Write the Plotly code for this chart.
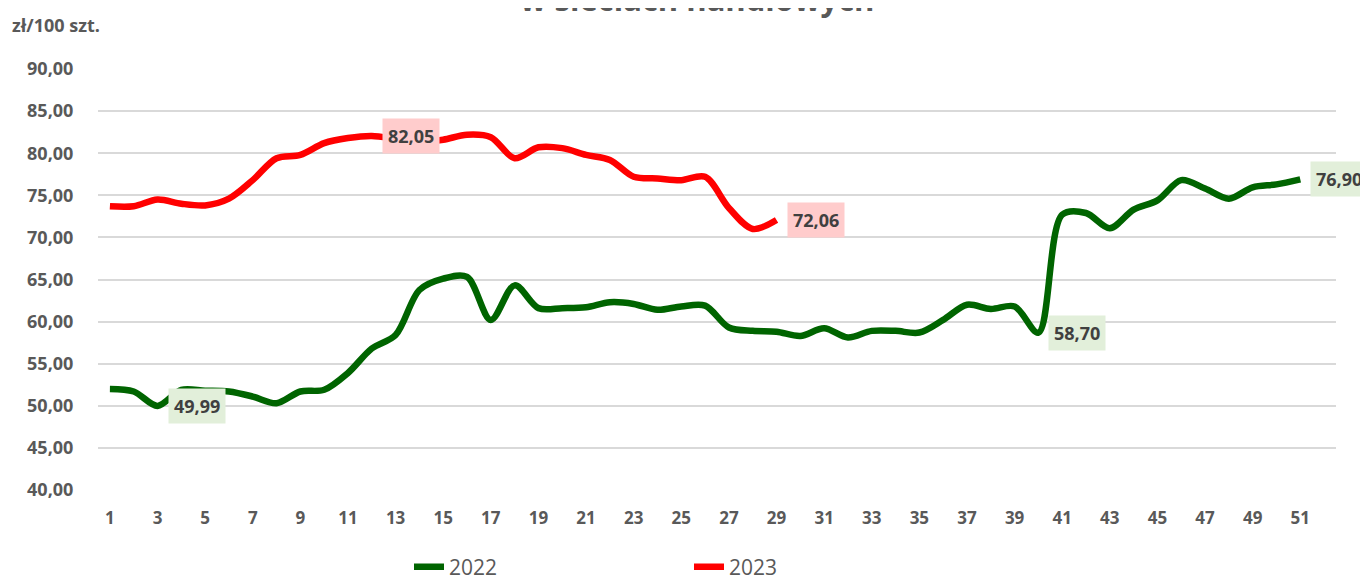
import plotly.graph_objects as go

weeks_2022 = list(range(1, 52))
values_2022 = [52.0, 51.7, 49.99, 51.9, 51.8, 51.7, 51.1, 50.3, 51.7, 51.9,
               53.9, 56.8, 58.4, 63.75, 65.1, 65.3, 60.2, 64.3, 61.6, 61.6,
               61.7, 62.3, 62.1, 61.4, 61.8, 61.9, 59.3, 58.9, 58.8, 58.3,
               59.2, 58.1, 58.9, 58.9, 58.7, 60.2, 62.0, 61.5, 61.8, 58.70,
               72.7, 72.9, 71.1, 73.3, 74.4, 76.8, 75.8, 74.6, 75.95, 76.3,
               76.90]

weeks_2023 = list(range(1, 30))
values_2023 = [73.7, 73.7, 74.5, 74.0, 73.8, 74.6, 76.8, 79.4, 79.8, 81.2,
               81.8, 82.05, 81.7, 81.3, 81.6, 82.2, 81.9, 79.4, 80.7, 80.6,
               79.8, 79.2, 77.2, 77.0, 76.8, 77.2, 73.5, 71.0, 72.06]

labelled_2022 = [3, 40, 51]
labelled_2023 = [12, 29]

x_ticks = list(range(1, 52, 2))
y_ticks = [40, 45, 50, 55, 60, 65, 70, 75, 80, 85, 90]

GREEN = "#006400"
RED = "#FF0000"
GREY = "#595959"
FONT = "Open Sans"

# the page body adds an 8px offset; compensate in margins
OFF = 8


def pl(v):
    return f"{v:.2f}".replace(".", ",")


fig = go.Figure()
fig.add_trace(go.Scatter(x=weeks_2022, y=values_2022, name="2022", mode="lines",
                         line=dict(color=GREEN, width=6.5, shape="spline", smoothing=0.9),
                         hoverinfo="skip"))
fig.add_trace(go.Scatter(x=weeks_2023, y=values_2023, name="2023", mode="lines",
                         line=dict(color=RED, width=6.5, shape="spline", smoothing=0.9),
                         hoverinfo="skip"))

annotations = []
for w in labelled_2022:
    v = values_2022[weeks_2022.index(w)]
    annotations.append(dict(x=w, y=v, xref="x", yref="y", text=pl(v), showarrow=False,
                            xanchor="left", yanchor="middle", xshift=10,
                            bgcolor="#E2EFDA", borderpad=5,
                            font=dict(family=FONT, size=18, color="#404040", weight="bold")))
for w in labelled_2023:
    v = values_2023[weeks_2023.index(w)]
    annotations.append(dict(x=w, y=v, xref="x", yref="y", text=pl(v), showarrow=False,
                            xanchor="left", yanchor="middle", xshift=10,
                            bgcolor="#FFCCCC", borderpad=5,
                            font=dict(family=FONT, size=18, color="#404040", weight="bold")))

annotations.append(dict(x=0.484, y=1.1116, xref="paper", yref="paper",
                        text="w sieciach handlowych", showarrow=False,
                        xanchor="center", yanchor="bottom",
                        font=dict(family=FONT, size=31, color=GREY, weight="bold")))
annotations.append(dict(x=-0.0711, y=1.1045, xref="paper", yref="paper",
                        text="zł/100 szt.", showarrow=False,
                        xanchor="left", yanchor="middle",
                        font=dict(family=FONT, size=18, color=GREY, weight="bold")))

fig.update_layout(
    width=1368, height=577,
    margin=dict(l=98 - OFF, r=32 + OFF, t=69 - OFF, b=87 + OFF, autoexpand=False),
    paper_bgcolor="white", plot_bgcolor="white",
    showlegend=True,
    legend=dict(orientation="h", xref="container", yref="container",
                x=(409 - OFF) / 1368, y=1 - (567 - OFF) / 577,
                xanchor="left", yanchor="middle",
                entrywidth=235, entrywidthmode="pixels",
                font=dict(family=FONT, size=21, color=GREY)),
    annotations=annotations,
    xaxis=dict(range=[0.5, 52.5], tickmode="array", tickvals=x_ticks,
               ticktext=[str(t) for t in x_ticks], showgrid=False, zeroline=False,
               showline=False, ticks="outside", ticklen=13, tickcolor="rgba(0,0,0,0)",
               tickfont=dict(family=FONT, size=17, color=GREY, weight="bold")),
    yaxis=dict(range=[40, 90], tickmode="array", tickvals=y_ticks,
               ticktext=[pl(t) for t in y_ticks], showgrid=True, gridcolor="#D9D9D9",
               gridwidth=1.5, zeroline=False, showline=False,
               ticks="outside", ticklen=20, tickcolor="rgba(0,0,0,0)",
               tickfont=dict(family=FONT, size=18, color=GREY, weight="bold")),
)

fig.write_html("out.html")
